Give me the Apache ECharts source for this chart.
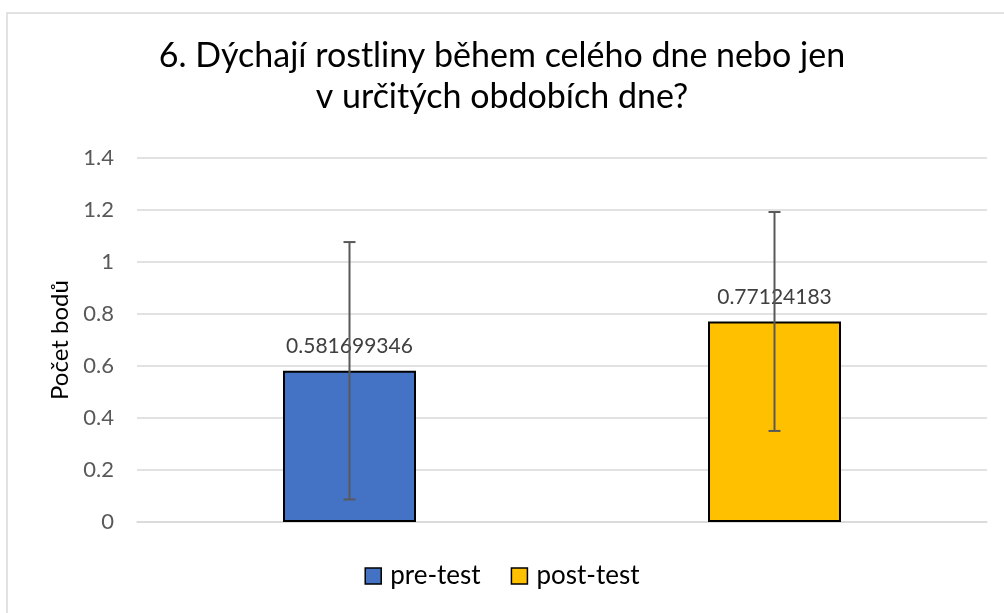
<!DOCTYPE html>
<html><head><meta charset="utf-8">
<script src="https://cdn.jsdelivr.net/npm/echarts@6/dist/echarts.min.js"></script>
<style>html,body{margin:0;padding:0;background:#fff}#c{width:1004px;height:613px}</style>
</head><body><div id="c"></div>
<script>
var categories = ['pre-test', 'post-test'];
var values = [0.581699346, 0.77124183];
var errors = [0.495, 0.421];
var colors = ['#4472C4', '#FFC000'];
var yTicks = [0, 0.2, 0.4, 0.6, 0.8, 1, 1.2, 1.4];
var titleText = '6. Dýchají rostliny během celého dne nebo jen\nv určitých obdobích dne?';
var yName = 'Počet bodů';

var FONT = 'Lato, "Open Sans", sans-serif';
var chart = echarts.init(document.getElementById('c'));
var barSeries = categories.map(function (name, i) {
  return {
    name: name, type: 'bar', barWidth: 133, barGap: '-100%',
    data: categories.map(function (c, j) { return j === i ? values[i] : '-'; }),
    itemStyle: { color: colors[i], borderColor: '#000', borderWidth: 2 },
    label: { show: true, position: 'top', distance: 14, color: '#404040', fontSize: 21, fontFamily: FONT,
      formatter: function (p) { return String(p.value); } },
    z: 2
  };
});
var errData = categories.map(function (c, i) { return [i, values[i] - errors[i], values[i] + errors[i]]; });
chart.setOption({
  animation: false,
  graphic: [{ type: 'rect', shape: { x: 7, y: 13, width: 1100, height: 700 }, style: { fill: 'none', stroke: '#d9d9d9', lineWidth: 1.5 }, silent: true }],
  title: { text: titleText, left: 'center', top: 31, textStyle: { fontSize: 34, fontWeight: 'normal', color: '#000', fontFamily: FONT, lineHeight: 41 } },
  legend: { bottom: 19, left: 'center', itemWidth: 16, itemHeight: 16, itemGap: 30, icon: 'rect',
    textStyle: { fontSize: 26, color: '#000', fontFamily: FONT, padding: [0, 0, 0, 4] },
    data: categories.map(function (c, i) { return { name: c, itemStyle: { color: colors[i], borderColor: '#000', borderWidth: 1.5 } }; }) },
  grid: { left: 137, right: 17, top: 158, bottom: 91, containLabel: false },
  xAxis: { type: 'category', data: categories, axisLabel: { show: false }, axisTick: { show: false },
    axisLine: { show: true, lineStyle: { color: '#d9d9d9', width: 1.5 } } },
  yAxis: { type: 'value', min: 0, max: 1.4, interval: 0.2, name: yName, nameLocation: 'middle', nameGap: 64, nameRotate: 90,
    nameTextStyle: { fontSize: 24, color: '#000', fontFamily: FONT },
    axisLabel: { fontSize: 22, color: '#595959', fontFamily: FONT, margin: 23,
      formatter: function (v) { var t = yTicks.find(function (x) { return Math.abs(x - v) < 1e-6; }); return t === undefined ? '' : String(t); } },
    splitLine: { lineStyle: { color: '#d9d9d9', width: 1.5 } }, axisLine: { show: false }, axisTick: { show: false } },
  series: barSeries.concat([{
    type: 'custom', data: errData, z: 5, silent: true,
    renderItem: function (params, api) {
      var x = api.value(0);
      var lo = api.coord([x, api.value(1)]);
      var hi = api.coord([x, api.value(2)]);
      var cx = lo[0], hw = 6;
      var st = { stroke: '#595959', lineWidth: 2 };
      return { type: 'group', children: [
        { type: 'line', shape: { x1: cx, y1: lo[1], x2: cx, y2: hi[1] }, style: st },
        { type: 'line', shape: { x1: cx - hw, y1: lo[1], x2: cx + hw, y2: lo[1] }, style: st },
        { type: 'line', shape: { x1: cx - hw, y1: hi[1], x2: cx + hw, y2: hi[1] }, style: st }
      ] };
    }
  }])
});
</script></body></html>
